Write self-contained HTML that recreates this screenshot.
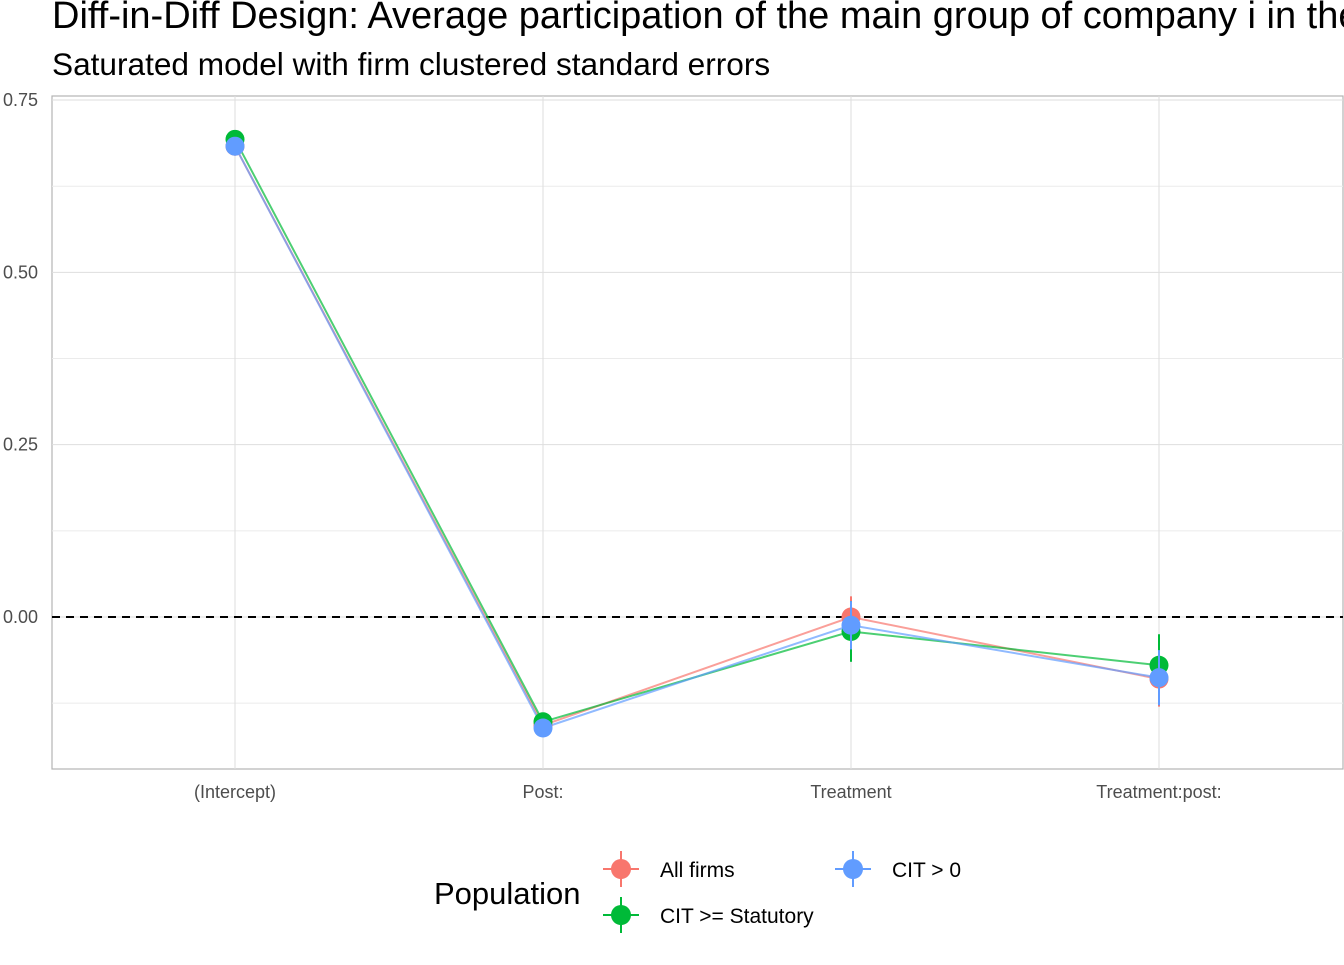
<!DOCTYPE html>
<html><head><meta charset="utf-8"><style>
body{margin:0;background:#fff;font-family:"Liberation Sans",Arial,sans-serif;overflow:hidden}
svg text{font-family:"Liberation Sans",Arial,sans-serif}
</style></head><body>
<svg id="c" width="1344" height="960" xmlns="http://www.w3.org/2000/svg">
<text x="52" y="28" font-size="38" fill="#000">Diff-in-Diff Design: Average participation of the main group of company i in the</text>
<text x="52" y="75" font-size="31.6" fill="#000">Saturated model with firm clustered standard errors</text>
<g id="grid"></g><g id="marks"></g>
<g>
<text x="434" y="904" font-size="31">Population</text>
<g><line x1="603" y1="869" x2="639" y2="869" stroke="#F8766D" stroke-width="2"/><line x1="621" y1="851" x2="621" y2="887" stroke="#F8766D" stroke-width="2"/><circle cx="621" cy="869" r="10" fill="#F8766D"/><text x="660" y="877" font-size="21">All firms</text></g>
<g><line x1="603" y1="915" x2="639" y2="915" stroke="#00BA38" stroke-width="2"/><line x1="621" y1="897" x2="621" y2="933" stroke="#00BA38" stroke-width="2"/><circle cx="621" cy="915" r="10" fill="#00BA38"/><text x="660" y="923" font-size="21">CIT &gt;= Statutory</text></g>
<g><line x1="835" y1="869" x2="871" y2="869" stroke="#619CFF" stroke-width="2"/><line x1="853" y1="851" x2="853" y2="887" stroke="#619CFF" stroke-width="2"/><circle cx="853" cy="869" r="10" fill="#619CFF"/><text x="892" y="877" font-size="21">CIT &gt; 0</text></g>
</g>
</svg>
<script>
const categories=["(Intercept)","Post:","Treatment","Treatment:post:"];
const seriesNames=["All firms","CIT >= Statutory","CIT > 0"];
const allFirms=[0.683,-0.157,0.0,-0.09];
const citStatutory=[0.693,-0.152,-0.021,-0.07];
const citPositive=[0.683,-0.161,-0.012,-0.088];
const errAllFirms=[0.01,0.01,0.03,0.04];
const errCitStatutory=[0.012,0.012,0.044,0.045];
const errCitPositive=[0.01,0.01,0.035,0.04];
const yTicks=[0,0.25,0.5,0.75];
const yTickLabels=["0.00","0.25","0.50","0.75"];
const colors=["#F8766D","#00BA38","#619CFF"];
const X0=52,X1=1343,Y0=96,Y1=769;
const y=v=>617-(v*689.3);
const x=i=>235+i*308;
const NS="http://www.w3.org/2000/svg";
function mk(t,a,p){const e=document.createElementNS(NS,t);for(const k in a)e.setAttribute(k,a[k]);p.appendChild(e);return e;}
const g=document.getElementById('grid'),m=document.getElementById('marks');
mk('rect',{x:X0,y:Y0,width:X1-X0,height:Y1-Y0,fill:'#fff',stroke:'#b3b3b3','stroke-width':1.2},g);
for(let i=0;i<yTicks.length-1;i++){mk('line',{x1:X0,x2:X1,y1:y((yTicks[i]+yTicks[i+1])/2),y2:y((yTicks[i]+yTicks[i+1])/2),stroke:'#ebebeb','stroke-width':1},g);}
mk('line',{x1:X0,x2:X1,y1:y(-0.125),y2:y(-0.125),stroke:'#ebebeb'},g);
yTicks.forEach((t,i)=>{
const l=mk('line',{x1:X0,x2:X1,y1:y(t),y2:y(t),stroke:'#dedede','stroke-width':1},g);


const tx=mk('text',{x:38,y:y(t)+6,'text-anchor':'end','font-size':18,fill:'#4d4d4d'},g);tx.textContent=yTickLabels[i];


});
categories.forEach((c,i)=>{
const l=mk('line',{x1:x(i),x2:x(i),y1:Y0,y2:Y1,stroke:'#dedede'},g);


const tx=mk('text',{x:x(i),y:798,'text-anchor':'middle','font-size':18,fill:'#4d4d4d'},g);tx.textContent=c;


});
const zl=mk('line',{x1:X0,x2:X1,y1:y(0),y2:y(0),stroke:'#000','stroke-width':2,'stroke-dasharray':'8 6'},g);


const S=[allFirms,citStatutory,citPositive],E=[errAllFirms,errCitStatutory,errCitPositive];
S.forEach((s,k)=>{
const p=mk('polyline',{points:s.map((v,i)=>x(i)+','+y(v)).join(' '),fill:'none',stroke:colors[k],'stroke-opacity':0.7,'stroke-width':2},m);


});
S.forEach((s,k)=>{
s.forEach((v,i)=>{
const el=mk('line',{x1:x(i),x2:x(i),y1:y(v+E[k][i]),y2:y(v-E[k][i]),stroke:colors[k],'stroke-width':2},m);


const c=mk('circle',{cx:x(i),cy:y(v),r:9.5,fill:colors[k]},m);


});
});
</script>
</body></html>
